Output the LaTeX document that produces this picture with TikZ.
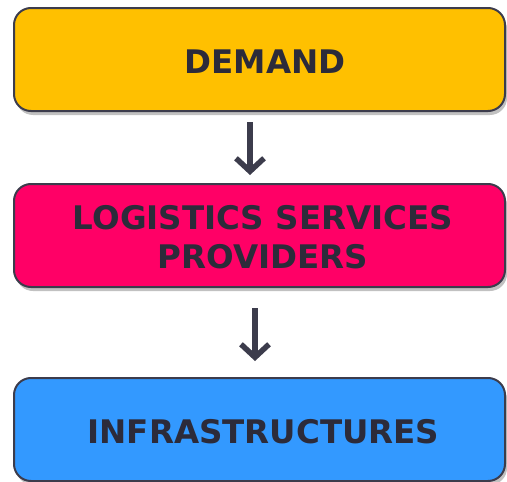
\documentclass[tikz,border=0pt]{standalone}
\usepackage{fontspec}
\setmainfont{DejaVu Sans}
\usetikzlibrary{arrows.meta,shadows}
\definecolor{cyellow}{HTML}{FFC000}
\definecolor{cpink}{HTML}{FF0066}
\definecolor{cblue}{HTML}{3399FF}
\definecolor{cdark}{HTML}{2C2B3A}
\definecolor{cedge}{HTML}{3C3C4C}
\tikzset{
  box/.style={draw=cedge, line width=2pt, rounded corners=17pt,
    minimum width=491pt, minimum height=103pt, inner sep=0pt,
    drop shadow={shadow xshift=2pt, shadow yshift=-4pt, opacity=0.35, fill=black!70}},
  lbl/.style={text=cdark, font=\fontsize{32.5}{39}\selectfont\bfseries, align=center},
  arr/.style={draw=cedge, line width=5.5pt, -{Straight Barb[length=13pt, width=28pt]}}
}
\begin{document}
\begin{tikzpicture}[x=1pt, y=-1pt]
\useasboundingbox (0,0) rectangle (507,482);
\node[box, fill=cyellow] (d) at (259.5,59.5) {};
\node[box, fill=cpink] (l) at (259.5,235.5) {};
\node[box, fill=cblue] (i) at (259.5,429.5) {};
\node[lbl] (dt) at (265,61.5) {DEMAND};
\node[lbl] (lt) at (263,237) {LOGISTICS SERVICES\\PROVIDERS};
\node[lbl] (it) at (263.5,432) {INFRASTRUCTURES};
\draw[arr, shorten <=10pt, shorten >=8pt] ([xshift=-9.5pt]d.south) -- ([xshift=-9.5pt]l.north);
\draw[arr, shorten <=20pt, shorten >=16pt] ([xshift=-4.5pt]l.south) -- ([xshift=-4.5pt]i.north);
\end{tikzpicture}
\end{document}
